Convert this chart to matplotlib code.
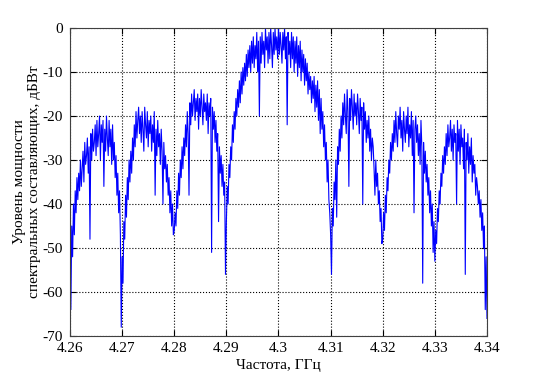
import numpy as np
from matplotlib import pyplot as plt

plt.rcParams['font.family'] = ['Liberation Serif', 'DejaVu Serif']
plt.rcParams['axes.unicode_minus'] = False

# уровни (дБВт), по 60 отсчётов на каждый лепесток (шаг 0.01/60 ГГц)
lobe_426 = [-58, -64, -45, -52, -40, -47, -37, -42, -34, -39,
            -33, -37, -30, -36, -32, -28, -35, -26, -31, -29,
            -25, -33, -27, -48, -24, -30, -23, -28, -26, -22,
            -29, -21, -27, -24, -20, -30, -22, -26, -21, -36,
            -23, -28, -20, -25, -29, -21, -27, -23, -31, -22,
            -30, -26, -34, -29, -38, -33, -42, -37, -47, -68]
lobe_427 = [-52, -58, -44, -48, -38, -43, -34, -39, -30, -35,
            -28, -33, -25, -30, -22, -27, -19, -25, -21, -18,
            -24, -20, -26, -19, -23, -28, -18, -22, -25, -19,
            -27, -21, -24, -20, -28, -22, -26, -19, -38, -23,
            -29, -21, -27, -24, -31, -23, -28, -40, -26, -32,
            -29, -35, -31, -38, -34, -42, -37, -45, -40, -47]
lobe_428 = [-46, -42, -45, -37, -41, -33, -38, -30, -34, -27,
            -32, -25, -29, -22, -27, -19, -24, -38, -17, -22,
            -15, -20, -17, -14, -21, -16, -19, -15, -23, -16,
            -20, -14, -18, -22, -15, -19, -17, -21, -15, -24,
            -17, -20, -16, -51, -18, -23, -19, -26, -21, -28,
            -24, -44, -27, -33, -29, -36, -31, -38, -35, -56]
lobe_429 = [-44, -36, -40, -31, -34, -27, -30, -22, -26, -19,
            -23, -16, -20, -14, -18, -12, -17, -10, -15, -9,
            -13, -8, -12, -6, -11, -5, -9, -4, -10, -3,
            -8, -2, -9, -4, -7, -1, -10, -3, -20, -2,
            -8, -1, -6, -3, -9, 0, -5, -2, -8, -1,
            -7, 0, -4, -9, -1, -6, 0, -5, -2, -7]
lobe_430 = [0, -6, -1, -4, -8, -1, -5, 0, -7, -2,
            -22, -1, -6, -3, -9, -1, -7, -2, -10, -3,
            -8, -2, -11, -4, -9, -3, -12, -5, -10, -6,
            -13, -7, -12, -8, -15, -10, -14, -11, -17, -12,
            -16, -11, -19, -13, -18, -12, -21, -14, -24, -16,
            -23, -19, -27, -22, -30, -26, -35, -30, -39, -42]
lobe_431 = [-47, -56, -41, -45, -35, -39, -30, -43, -27, -31,
            -23, -28, -20, -25, -17, -22, -15, -20, -24, -14,
            -19, -36, -16, -21, -14, -18, -23, -15, -20, -17,
            -22, -15, -19, -24, -16, -21, -18, -40, -17, -23,
            -19, -26, -21, -25, -20, -28, -23, -30, -25, -27,
            -32, -38, -30, -36, -33, -40, -37, -44, -41, -49]
lobe_432 = [-48, -42, -46, -38, -42, -34, -37, -30, -33, -26,
            -30, -24, -28, -21, -26, -19, -24, -27, -20, -23,
            -18, -25, -21, -28, -19, -23, -26, -20, -24, -18,
            -27, -22, -25, -19, -29, -21, -42, -23, -20, -26,
            -22, -29, -24, -31, -21, -27, -58, -26, -33, -28,
            -35, -31, -38, -34, -42, -37, -45, -40, -51, -44]
lobe_433 = [-53, -46, -49, -41, -44, -37, -40, -33, -36, -29,
            -33, -27, -31, -24, -29, -22, -27, -25, -21, -28,
            -23, -30, -22, -26, -24, -40, -21, -28, -23, -31,
            -22, -27, -25, -32, -23, -56, -26, -30, -24, -33,
            -27, -31, -25, -35, -29, -33, -31, -38, -34, -36,
            -40, -37, -43, -39, -46, -42, -50, -45, -64, -52,
            -66]

level = np.array(lobe_426 + lobe_427 + lobe_428 + lobe_429 +
                 lobe_430 + lobe_431 + lobe_432 + lobe_433)
freq = np.linspace(4.26, 4.34, len(level))

xticks = [4.26, 4.27, 4.28, 4.29, 4.30, 4.31, 4.32, 4.33, 4.34]
xtick_labels = ['4.26', '4.27', '4.28', '4.29', '4.3', '4.31', '4.32', '4.33', '4.34']
yticks = [-70, -60, -50, -40, -30, -20, -10, 0]

fig = plt.figure(figsize=(5.38, 3.78), dpi=100)
ax = fig.add_axes([0.1301, 0.1111, 0.7751, 0.8148])

ax.plot(freq, level, color='blue', linewidth=0.8)

ax.set_xlim(4.26, 4.34)
ax.set_ylim(-70, 0)
ax.set_xticks(xticks)
ax.set_xticklabels(xtick_labels)
ax.set_yticks(yticks)
ax.tick_params(direction='in', top=True, right=True, labelsize=11, length=4)
ax.tick_params(axis='x', pad=4)
ax.tick_params(axis='y', pad=5)
ax.grid(True, color='black', linestyle=':', linewidth=0.8)
for s in ax.spines.values():
    s.set_linewidth(0.8)
    s.set_color('#404040')

ax.set_xlabel('Частота, ГГц', fontsize=11, labelpad=3)
ax.set_ylabel('Уровень мощности\nспектральных составляющих, дБВт', fontsize=11, labelpad=1)

fig.savefig('out.png', dpi=100)
